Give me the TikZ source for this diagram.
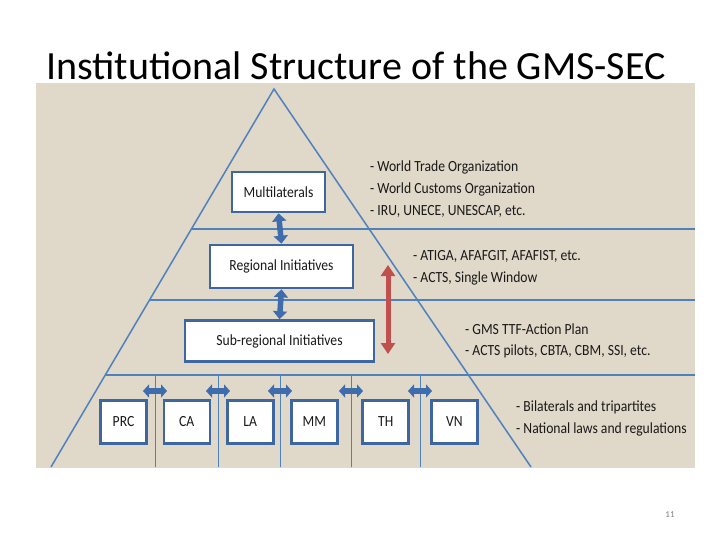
\documentclass[tikz,border=0pt]{standalone}
\usepackage{fontspec}
\setmainfont{Carlito}
\newfontfamily\narrowfont[FakeStretch=0.88]{Carlito}
\usetikzlibrary{arrows.meta}
\definecolor{panelbeige}{RGB}{224,216,201}
\definecolor{lineblue}{RGB}{79,129,189}
\definecolor{boxblue}{RGB}{62,102,160}
\definecolor{arrowblue}{RGB}{62,108,172}
\definecolor{arrowred}{RGB}{192,80,77}
\definecolor{textdark}{RGB}{25,25,25}

\begin{document}
\begin{tikzpicture}[x=1pt,y=-1pt,
  every node/.style={font=\narrowfont\fontsize{15.5}{18}\selectfont, text=textdark},
  tier/.style={draw=boxblue, line width=2.6pt, fill=white, inner sep=0pt},
  blockarrow/.style={arrowblue, line width=5.5pt, {Triangle[width=14pt,length=8pt]}-{Triangle[width=14pt,length=8pt]}},
  sidearrow/.style={arrowblue, line width=5.5pt, {Triangle[width=13pt,length=6pt]}-{Triangle[width=13pt,length=6pt]}},
  redarrow/.style={arrowred, line width=5pt, {Triangle[width=14pt,length=11pt]}-{Triangle[width=14pt,length=11pt]}},
  note/.style={anchor=west, inner sep=0pt}]
\useasboundingbox (0,0) rectangle (720,540);
\fill[white] (0,0) rectangle (720,540);
% Title
\node[font=\fontsize{40}{46}\selectfont, text=black] (title) at (356,66) {Institutional Structure of the GMS-SEC};
% ==================== PANEL ====================
\fill[panelbeige] (36,83) rectangle (695,468);
% Pyramid
\coordinate (apex) at (274,89);
\draw[lineblue, line width=1.5pt] (51,467) -- (apex) -- (531,467);
% Tier separators
\draw[lineblue, line width=1.8pt] (191.4,229) -- (695,229);
\draw[lineblue, line width=1.8pt] (149.5,300) -- (695,300);
\draw[lineblue, line width=1.8pt] (105.3,375) -- (695,375);
% Country dividers with arrows
\foreach \x in {155,218,280,351,420} {
  \draw[lineblue, line width=1pt] (\x,375) -- (\x,467);
  \draw[sidearrow] (\x-12,391) -- (\x+12,391);
}
% ==================== BOXES ====================
\node[tier, minimum width=93pt, minimum height=40pt] (multi) at (278.5,192) {Multilaterals};
\node[tier, minimum width=143pt, minimum height=43pt] (regional) at (281.5,266.5) {Regional Initiatives};
\node[tier, minimum width=189pt, minimum height=41pt] (subregional) at (279.5,341) {Sub-regional Initiatives};
\foreach \name/\x in {PRC/123.5, CA/186.8, LA/250.2, MM/314.3, TH/385.7, VN/454.5}
  \node[tier, minimum width=46pt, minimum height=43pt] (\name) at (\x,422) {\name};
% Links between tiers
\draw[blockarrow] (multi.south) -- (regional.north);
\draw[blockarrow] (regional.south) -- (subregional.north);
% Red link across regional levels
\coordinate (redtop) at (388,265);
\coordinate (redbot) at (388,354);
\draw[redarrow] (redtop) -- (redbot);
% ==================== NOTES ====================
\node[note] (wto) at (370,167) {- World Trade Organization};
\node[note] (wco) at (370,189) {- World Customs Organization};
\node[note] (iru) at (370,211) {- IRU, UNECE, UNESCAP, etc.};
\node[note] (atiga) at (413,256) {- ATIGA, AFAFGIT, AFAFIST, etc.};
\node[note] (acts) at (413,278) {- ACTS, Single Window};
\node[note] (gms) at (465,329) {- GMS TTF-Action Plan};
\node[note] (pilots) at (465,351) {- ACTS pilots, CBTA, CBM, SSI, etc.};
\node[note] (bilat) at (516,407) {- Bilaterals and tripartites};
\node[note] (natl) at (516,429) {- National laws and regulations};
% Page number
\node[font=\fontsize{9}{10}\selectfont, text=gray] (page) at (670,515) {11};
\end{tikzpicture}
\end{document}
